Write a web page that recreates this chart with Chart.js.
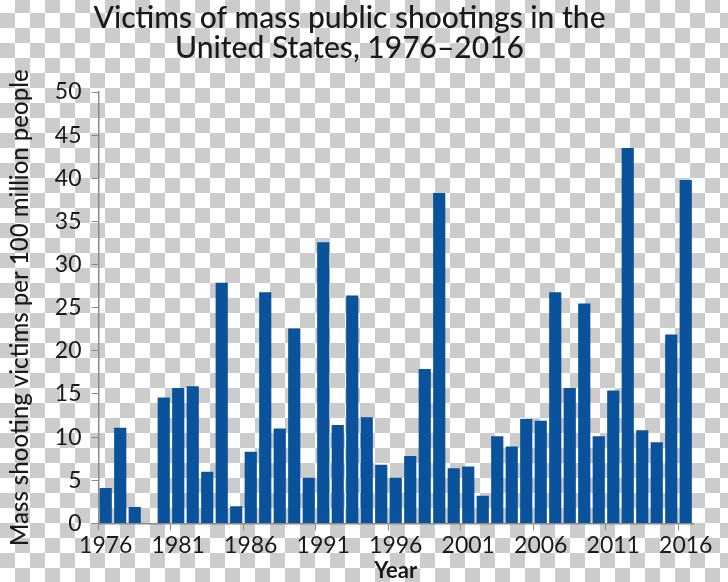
<!DOCTYPE html>
<html>
<head>
<meta charset="utf-8">
<script src="https://cdn.jsdelivr.net/npm/chart.js@4/dist/chart.umd.min.js"></script>
<style>
  html, body {
    margin: 0;
    padding: 0;
  }
  body {
    width: 728px;
    height: 582px;
    background: repeating-conic-gradient(#cccccc 0 25%, #ffffff 0 50%) 0 -2px / 30px 30px;
  }
  #wrap {
    position: relative;
    width: 728px;
    height: 582px;
  }
</style>
</head>
<body>
<div id="wrap"><canvas id="shootingsChart"></canvas></div>
<script>
const years = [];
for (let y = 1976; y <= 2016; y++) years.push(String(y));

const victims = [
    4.1, 11.1, 1.9, 0, 14.6, 15.7, 15.9, 6.0, 27.9, 2.0,
    8.3, 26.8, 11.0, 22.6, 5.3, 32.6, 11.4, 26.4, 12.3, 6.8,
    5.3, 7.8, 17.9, 38.3, 6.4, 6.6, 3.2, 10.1, 8.9, 12.1,
    11.9, 26.8, 15.7, 25.5, 10.1, 15.4, 43.5, 10.8, 9.4, 21.9,
    39.8
];

const labelledYears = ['1976', '1981', '1986', '1991', '1996', '2001', '2006', '2011', '2016'];

const titleLines = ['Victims of mass public shootings in the', 'United States, 1976\u20132016'];

const barColor = '#0a529b';
const axisColor = '#8a8a8a';
const textColor = '#1a1a1a';

const canvas = document.getElementById('shootingsChart');

new Chart(canvas, {
    type: 'bar',
    data: {
        labels: years,
        datasets: [{
            label: 'Victims per 100 million people',
            data: victims,
            backgroundColor: barColor,
            borderWidth: 0,
            barPercentage: 0.84,
            categoryPercentage: 1
        }]
    },
    options: {
        responsive: true,
        maintainAspectRatio: false,
        animation: false,
        layout: {
            padding: { left: 6, right: 35, top: 0, bottom: 0 }
        },
        plugins: {
            legend: { display: false },
            tooltip: { enabled: false },
            title: {
                display: true,
                text: titleLines,
                color: textColor,
                font: { family: 'Lato', size: 30, weight: '500', lineHeight: 1.0 },
                padding: { top: 3, bottom: 29 }
            }
        },
        scales: {
            x: {
                grid: {
                    display: true,
                    drawOnChartArea: false,
                    drawTicks: true,
                    tickLength: 7,
                    color: (ctx) => {
                        const lbl = years[ctx.index];
                        return labelledYears.includes(lbl) ? axisColor : 'rgba(0,0,0,0)';
                    }
                },
                border: { display: true, color: axisColor, width: 1.5 },
                ticks: {
                    autoSkip: false,
                    maxRotation: 0,
                    padding: 1,
                    color: textColor,
                    font: { family: 'Lato', size: 23 },
                    callback: function (value, index) {
                        const lbl = years[index];
                        return labelledYears.includes(lbl) ? lbl : '';
                    }
                },
                title: {
                    display: true,
                    text: 'Year',
                    color: textColor,
                    font: { family: 'Lato', size: 22, weight: 'bold', lineHeight: 1.0 },
                    padding: { top: 0, bottom: 0 }
                }
            },
            y: {
                min: 0,
                max: 50,
                grid: {
                    display: true,
                    drawOnChartArea: false,
                    drawTicks: true,
                    tickLength: 7,
                    color: axisColor
                },
                border: { display: true, color: axisColor, width: 1.5 },
                ticks: {
                    stepSize: 5,
                    padding: 10,
                    color: textColor,
                    font: { family: 'Lato', size: 23 }
                },
                title: {
                    display: true,
                    text: 'Mass shooting victims per 100 million people',
                    color: textColor,
                    font: { family: 'Lato', size: 24, weight: '500' },
                    padding: { top: 0, bottom: 10 }
                }
            }
        }
    }
});
</script>
</body>
</html>
